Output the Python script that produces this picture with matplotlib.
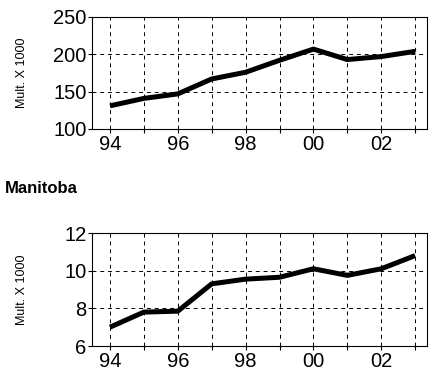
import matplotlib
matplotlib.use("Agg")
import matplotlib.pyplot as plt

years = [94, 95, 96, 97, 98, 99, 100, 101, 102, 103]
tick_labels = ["94", "", "96", "", "98", "", "00", "", "02", ""]
top_values = [131, 141, 147, 167, 176, 192, 207, 193, 197, 204]
manitoba_values = [7.0, 7.8, 7.85, 9.3, 9.55, 9.65, 10.1, 9.75, 10.1, 10.8]

plt.rcParams['font.family'] = ['Liberation Sans', 'DejaVu Sans']

fig = plt.figure(figsize=(4.37, 3.71), dpi=100)


def draw_panel(ax, values, ylim, yticks):
    ax.plot(years, values, color='black', linewidth=3.6, solid_capstyle='butt')
    ax.set_xlim(93.47, 103.35)
    ax.set_ylim(*ylim)
    ax.set_xticks(years)
    ax.set_xticklabels(tick_labels)
    ax.set_yticks(yticks)
    ax.grid(True, color='black', linestyle=(0, (4, 4)), linewidth=0.7)
    ax.tick_params(axis='both', labelsize=14.5, length=3, direction='out', pad=1)
    ax.set_ylabel("Mult. X 1000", fontsize=9)
    # both panels share the same label column
    ax.yaxis.set_label_coords(-0.19, 0.5)
    for s in ax.spines.values():
        s.set_linewidth(0.8)


ax1 = fig.add_axes([92 / 437, 1 - 129 / 371, 335 / 437, 112 / 371])
draw_panel(ax1, top_values, (100, 250), [100, 150, 200, 250])

ax2 = fig.add_axes([92 / 437, 1 - 346 / 371, 335 / 437, 113 / 371])
draw_panel(ax2, manitoba_values, (6, 12), [6, 8, 10, 12])

fig.text(5 / 437, 1 - 193 / 371, "Manitoba", fontsize=12, fontweight='bold')

fig.savefig("out.png", dpi=100)
